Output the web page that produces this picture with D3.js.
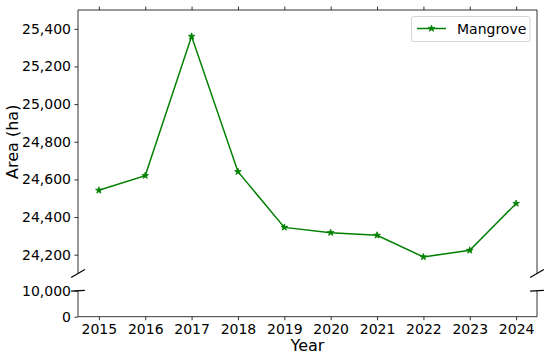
<!DOCTYPE html>
<html>
<head>
<meta charset="utf-8">
<script src="https://cdnjs.cloudflare.com/ajax/libs/d3/7.8.5/d3.min.js"></script>
<style>
  body { margin: 0; background: #fff; }
  text { font-family: "DejaVu Sans", sans-serif; fill: #000; }
</style>
</head>
<body>
<svg id="chart" width="550" height="357"></svg>
<script>
// data
var years = [ 2015, 2016, 2017, 2018, 2019, 2020, 2021, 2022, 2023, 2024 ];
var mangrove = [ 24542, 24620, 25360, 24641, 24345, 24317, 24303, 24188, 24223, 24472 ];
var upperTicks = [ 24200, 24400, 24600, 24800, 25000, 25200, 25400 ];
var lowerTicks = [ 0, 10000 ];
var seriesName = "Mangrove";

var svg = d3.select( "#chart" );
var left = 78, right = 537;
var upTop = 10, upBottom = 273.5;
var loTop = 290.7, loBottom = 316.7;
var color = "#008000";
var fmt = d3.format( "," );

var x = d3.scaleLinear()
    .domain( [ 2015 - 0.45, 2024 + 0.45 ] )
    .range( [ left, right ] );
var yUp = d3.scaleLinear().domain( [ 24100, 25500 ] ).range( [ upBottom, upTop ] );
var yLo = d3.scaleLinear().domain( [ 0, 10000 ] ).range( [ loBottom, loTop ] );

function styleAxis( g ) {
    g.select( ".domain" ).remove();
    g.selectAll( ".tick line" ).attr( "stroke", "#000" ).attr( "stroke-width", 0.8 );
    g.selectAll( ".tick text" ).style( "font-size", "14px" ).attr( "fill", "#000" );
}

// upper y axis
svg.append( "g" )
    .attr( "transform", "translate(" + left + ",0)" )
    .call( d3.axisLeft( yUp ).tickValues( upperTicks ).tickFormat( fmt ).tickSize( 3.5 ).tickPadding( 3.5 ) )
    .call( styleAxis );

// lower y axis
svg.append( "g" )
    .attr( "transform", "translate(" + left + ",0)" )
    .call( d3.axisLeft( yLo ).tickValues( lowerTicks ).tickFormat( fmt ).tickSize( 3.5 ).tickPadding( 3.5 ) )
    .call( styleAxis );

// top ticks (no labels)
svg.append( "g" )
    .attr( "transform", "translate(0," + upTop + ")" )
    .call( d3.axisTop( x ).tickValues( years ).tickFormat( "" ).tickSize( 3.5 ) )
    .call( styleAxis );

// bottom x axis
svg.append( "g" )
    .attr( "transform", "translate(0," + loBottom + ")" )
    .call( d3.axisBottom( x ).tickValues( years ).tickFormat( d3.format( "d" ) ).tickSize( 3.5 ).tickPadding( 3.5 ) )
    .call( styleAxis );

// spines
var spines = svg.append( "g" ).attr( "stroke", "#000" ).attr( "stroke-width", 0.8 ).attr( "fill", "none" );
spines.append( "path" ).attr( "d", "M" + left + "," + upBottom + "V" + upTop + "H" + right + "V" + upBottom );
spines.append( "path" ).attr( "d", "M" + left + "," + loTop + "V" + loBottom + "H" + right + "V" + loTop );

// break marks
var bw = 0.015 * ( right - left );
var bhUp = 0.015 * ( upBottom - upTop );
var bhLo = 0.015 * ( loBottom - loTop );
var breaks = svg.append( "g" ).attr( "stroke", "#000" ).attr( "stroke-width", 1.2 );
[ left, right ].forEach( function( bx ) {
    breaks.append( "line" )
        .attr( "x1", bx - bw ).attr( "y1", upBottom + bhUp )
        .attr( "x2", bx + bw ).attr( "y2", upBottom - bhUp );
    breaks.append( "line" )
        .attr( "x1", bx - bw ).attr( "y1", loTop + bhLo )
        .attr( "x2", bx + bw ).attr( "y2", loTop - bhLo );
} );

// line
var pts = years.map( function( d, i ) { return [ x( d ), yUp( mangrove[ i ] ) ]; } );
svg.append( "path" )
    .attr( "d", d3.line()( pts ) )
    .attr( "fill", "none" )
    .attr( "stroke", color )
    .attr( "stroke-width", 1.5 );

var star = d3.symbol().type( d3.symbolStar ).size( 14 );
svg.append( "g" ).selectAll( "path" )
    .data( pts )
    .join( "path" )
    .attr( "d", star )
    .attr( "transform", function( d ) { return "translate(" + d[ 0 ] + "," + d[ 1 ] + ")"; } )
    .attr( "fill", color )
    .attr( "stroke", color )
    .attr( "stroke-width", 0.8 );

// axis labels
svg.append( "text" )
    .attr( "x", ( left + right ) / 2 )
    .attr( "y", 351 )
    .attr( "text-anchor", "middle" )
    .style( "font-size", "16px" )
    .text( "Year" );

svg.append( "text" )
    .attr( "transform", "translate(18," + ( ( upTop + upBottom ) / 2 ) + ") rotate(-90)" )
    .attr( "text-anchor", "middle" )
    .style( "font-size", "16px" )
    .text( "Area (ha)" );

// legend
var lg = svg.append( "g" );
lg.append( "rect" )
    .attr( "x", 411.5 ).attr( "y", 16.5 )
    .attr( "width", 118.5 ).attr( "height", 25 )
    .attr( "rx", 2 )
    .attr( "fill", "#fff" ).attr( "fill-opacity", 0.8 )
    .attr( "stroke", "#ccc" ).attr( "stroke-width", 0.8 );
lg.append( "line" )
    .attr( "x1", 417 ).attr( "x2", 446 )
    .attr( "y1", 28.5 ).attr( "y2", 28.5 )
    .attr( "stroke", color ).attr( "stroke-width", 1.5 );
lg.append( "path" )
    .attr( "d", star )
    .attr( "transform", "translate(431.5,28.5)" )
    .attr( "fill", color ).attr( "stroke", color ).attr( "stroke-width", 0.8 );
lg.append( "text" )
    .attr( "x", 457 ).attr( "y", 33.5 )
    .style( "font-size", "14px" )
    .text( seriesName );
</script>
</body>
</html>
